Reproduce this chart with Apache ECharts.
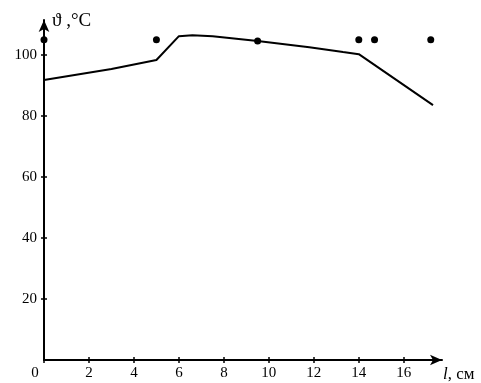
<!DOCTYPE html>
<html>
<head>
<meta charset="utf-8">
<script src="https://cdn.jsdelivr.net/npm/echarts@6/dist/echarts.min.js"></script>
<style>
html, body { margin: 0; padding: 0; background: #fff; }
#chart { width: 481px; height: 383px; }
</style>
</head>
<body>
<div id="chart"></div>
<script>
// temperature profile along the length
var lineX = [0, 3, 5, 6, 6.6, 7.5, 9.5, 11.8, 13.3, 14, 17.3];
var lineY = [91.8, 95.4, 98.4, 106.2, 106.5, 106.2, 104.6, 102.6, 101, 100.3, 83.6];
// measured points
var dotX = [0, 5, 9.5, 14, 14.7, 17.2];
var dotY = [105, 105, 104.6, 105, 105, 105];
var xTicks = [0, 2, 4, 6, 8, 10, 12, 14, 16];
var yTicks = [20, 40, 60, 80, 100];

var font = 'Liberation Serif';
var myChart = echarts.init(document.getElementById('chart'));

function pairs(xs, ys) {
    return xs.map(function (x, i) { return [x, ys[i]]; });
}

option = {
    animation: false,
    grid: { left: 44, right: 39, top: 20, bottom: 23 },
    xAxis: [
        {
            type: 'value', min: 0, max: 17.7,
            splitLine: { show: false },
            axisLine: { lineStyle: { color: '#000', width: 2 }, symbol: ['none', 'arrow'], symbolSize: [8, 12] },
            axisTick: { customValues: xTicks, length: 3, lineStyle: { color: '#000', width: 1.5 } },
            axisLabel: {
                customValues: xTicks, color: '#000', fontFamily: font, fontSize: 15, margin: 6,
                formatter: function (v) { return v === 0 ? '{z|0}' : String(v); },
                rich: { z: { fontFamily: font, fontSize: 15, color: '#000', padding: [0, 18, 0, 0] } }
            },
            name: '{i|l}, см', nameLocation: 'end', nameGap: 1,
            nameTextStyle: {
                color: '#000', fontFamily: font, fontSize: 17, align: 'left', verticalAlign: 'top', padding: [6, 0, 0, 0],
                rich: { i: { fontStyle: 'italic', fontFamily: font, fontSize: 17, color: '#000' } }
            }
        },
        {
            type: 'value', min: 0, max: 17.7, position: 'bottom',
            splitLine: { show: false }, axisLine: { show: false }, axisLabel: { show: false },
            axisTick: { customValues: xTicks, inside: true, length: 3, lineStyle: { color: '#000', width: 1.5 } }
        }
    ],
    yAxis: [
        {
            type: 'value', min: 0, max: 111.5,
            splitLine: { show: false },
            axisLine: { lineStyle: { color: '#000', width: 2 }, symbol: ['none', 'arrow'], symbolSize: [8, 12] },
            axisTick: { customValues: yTicks, length: 3, lineStyle: { color: '#000', width: 1.5 } },
            axisLabel: { customValues: yTicks, color: '#000', fontFamily: font, fontSize: 15, margin: 7 },
            name: 'ϑ ,°C', nameLocation: 'end', nameGap: -1,
            nameTextStyle: { color: '#000', fontFamily: font, fontSize: 19, align: 'left', verticalAlign: 'middle', padding: [0, 0, 0, 8] }
        },
        {
            type: 'value', min: 0, max: 111.5, position: 'left',
            splitLine: { show: false }, axisLine: { show: false }, axisLabel: { show: false },
            axisTick: { customValues: yTicks, inside: true, length: 3, lineStyle: { color: '#000', width: 1.5 } }
        }
    ],
    series: [
        {
            type: 'line', data: pairs(lineX, lineY), showSymbol: false, clip: false,
            lineStyle: { color: '#000', width: 2 }
        },
        {
            type: 'scatter', data: pairs(dotX, dotY), symbolSize: 7, clip: false,
            itemStyle: { color: '#000', opacity: 1 }
        }
    ]
};

myChart.setOption(option);
</script>
</body>
</html>
